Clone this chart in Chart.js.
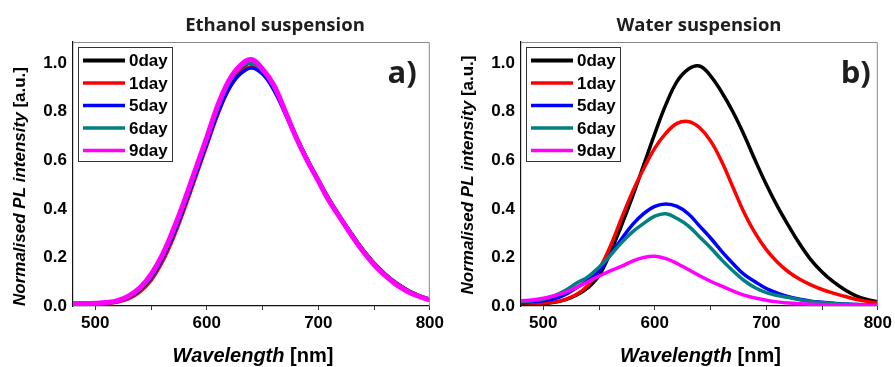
<!DOCTYPE html>
<html>
<head>
<meta charset="utf-8">
<script src="https://cdn.jsdelivr.net/npm/chart.js@4/dist/chart.umd.min.js"></script>
<style>
  html, body { margin: 0; padding: 0; background: #ffffff; }
  #wrap { position: relative; width: 895px; height: 367px; overflow: hidden; background: #fff; }
  canvas { position: absolute; top: 0; }
  #c1 { left: 0; }
  #c2 { left: 448px; }
</style>
</head>
<body>
<div id="wrap">
  <canvas id="c1" width="447" height="367"></canvas>
  <canvas id="c2" width="447" height="367"></canvas>
</div>
<script>
// ---------------- DATA ----------------
const wavelengths = [480, 490, 500, 510, 520, 530, 540, 550, 560, 570, 580, 590, 600, 610, 620, 630, 640,
                     650, 660, 670, 680, 690, 700, 710, 720, 730, 740, 750, 760, 770, 780, 790, 800];

const dayLabels = ['0day', '1day', '5day', '6day', '9day'];
const dayColors = ['#000000', '#ff0000', '#0000ff', '#008080', '#ff00ff'];

const xTickValues = [500, 550, 600, 650, 700, 750, 800];
const xTickLabels = ['500', '', '600', '', '700', '', '800'];
const yTickValues = [0.0, 0.2, 0.4, 0.6, 0.8, 1.0];
const yTickLabels = ['0.0', '0.2', '0.4', '0.6', '0.8', '1.0'];

// (a) Ethanol suspension
const ethanolDay0 = [0.005, 0.006, 0.008, 0.011, 0.018, 0.034, 0.063, 0.113, 0.190, 0.290, 0.410, 0.540, 0.670, 0.805, 0.910, 0.975, 1.000,
                     0.965, 0.900, 0.805, 0.700, 0.605, 0.520, 0.438, 0.365, 0.297, 0.232, 0.177, 0.132, 0.095, 0.066, 0.044, 0.028];
const ethanolDay1 = [0.006, 0.006, 0.007, 0.010, 0.016, 0.030, 0.058, 0.105, 0.180, 0.280, 0.400, 0.530, 0.660, 0.790, 0.895, 0.960, 0.985,
                     0.960, 0.895, 0.800, 0.697, 0.603, 0.518, 0.435, 0.363, 0.295, 0.230, 0.175, 0.130, 0.093, 0.064, 0.043, 0.027];
const ethanolDay5 = [0.007, 0.008, 0.009, 0.012, 0.019, 0.035, 0.065, 0.115, 0.193, 0.293, 0.412, 0.540, 0.668, 0.795, 0.895, 0.955, 0.980,
                     0.955, 0.890, 0.795, 0.692, 0.598, 0.513, 0.432, 0.360, 0.292, 0.228, 0.173, 0.128, 0.091, 0.063, 0.042, 0.026];
const ethanolDay6 = [0.007, 0.008, 0.009, 0.012, 0.020, 0.037, 0.068, 0.120, 0.200, 0.302, 0.422, 0.552, 0.682, 0.815, 0.920, 0.980, 1.000,
                     0.968, 0.902, 0.805, 0.700, 0.604, 0.518, 0.436, 0.364, 0.295, 0.230, 0.175, 0.130, 0.093, 0.064, 0.043, 0.027];
const ethanolDay9 = [0.010, 0.010, 0.011, 0.014, 0.022, 0.042, 0.075, 0.130, 0.210, 0.315, 0.435, 0.565, 0.695, 0.828, 0.930, 0.990, 1.015,
                     0.975, 0.910, 0.805, 0.695, 0.600, 0.515, 0.430, 0.360, 0.290, 0.225, 0.170, 0.125, 0.088, 0.060, 0.040, 0.025];

// (b) Water suspension
const waterDay0 = [0.012, 0.010, 0.010, 0.015, 0.026, 0.045, 0.075, 0.125, 0.220, 0.330, 0.450, 0.580, 0.710, 0.830, 0.925, 0.975, 0.988,
                   0.948, 0.880, 0.800, 0.705, 0.600, 0.500, 0.410, 0.330, 0.255, 0.190, 0.140, 0.100, 0.068, 0.043, 0.027, 0.017];
const waterDay1 = [0.015, 0.012, 0.012, 0.016, 0.027, 0.048, 0.085, 0.150, 0.245, 0.360, 0.470, 0.565, 0.650, 0.712, 0.752, 0.760, 0.735,
                   0.680, 0.595, 0.490, 0.385, 0.300, 0.232, 0.180, 0.140, 0.110, 0.087, 0.068, 0.053, 0.040, 0.028, 0.019, 0.012];
const waterDay5 = [0.015, 0.018, 0.022, 0.030, 0.048, 0.076, 0.105, 0.145, 0.210, 0.275, 0.335, 0.380, 0.410, 0.420, 0.410, 0.380, 0.330,
                   0.280, 0.225, 0.175, 0.130, 0.100, 0.072, 0.053, 0.038, 0.028, 0.020, 0.015, 0.011, 0.008, 0.006, 0.005, 0.004];
const waterDay6 = [0.018, 0.022, 0.028, 0.043, 0.065, 0.095, 0.120, 0.160, 0.208, 0.260, 0.305, 0.340, 0.370, 0.380, 0.360, 0.330, 0.285,
                   0.240, 0.190, 0.145, 0.105, 0.075, 0.055, 0.043, 0.035, 0.026, 0.019, 0.014, 0.010, 0.008, 0.006, 0.005, 0.004];
const waterDay9 = [0.022, 0.025, 0.032, 0.042, 0.056, 0.077, 0.100, 0.123, 0.145, 0.163, 0.185, 0.200, 0.205, 0.195, 0.175, 0.150, 0.125,
                   0.102, 0.082, 0.062, 0.045, 0.033, 0.024, 0.017, 0.012, 0.009, 0.007, 0.006, 0.005, 0.004, 0.004, 0.003, 0.003];

const ethanolSeries = [ethanolDay0, ethanolDay1, ethanolDay5, ethanolDay6, ethanolDay9];
const waterSeries = [waterDay0, waterDay1, waterDay5, waterDay6, waterDay9];

// ---------------- DRAWING ----------------
const TICK_FONT = { family: '"Liberation Sans", Arial, sans-serif', size: 17, weight: 'bold' };

const panelDecor = {
  id: 'panelDecor',
  afterDraw(chart, args, o) {
    const ctx = chart.ctx;
    const a = chart.chartArea;
    ctx.save();
    // top/right frame
    ctx.strokeStyle = '#8a8a8a';
    ctx.lineWidth = 1;
    ctx.beginPath();
    ctx.moveTo(a.left, a.top + 0.5);
    ctx.lineTo(a.right - 0.5, a.top + 0.5);
    ctx.lineTo(a.right - 0.5, a.bottom);
    ctx.stroke();

    // panel title
    ctx.fillStyle = '#1e1e1e';
    ctx.font = '700 18.5px "Open Sans", sans-serif';
    ctx.textAlign = 'center';
    ctx.textBaseline = 'alphabetic';
    ctx.fillText(o.title, o.titleX, 31);

    // panel letter
    ctx.font = '700 31px "Open Sans", sans-serif';
    ctx.textAlign = 'right';
    ctx.fillText(o.letter, a.right - o.letterInset, 83);

    // legend
    const lx = a.left + 5, ly = 47, lw = 94, lh = 114;
    ctx.fillStyle = '#fff';
    ctx.fillRect(lx, ly, lw, lh);
    ctx.strokeStyle = '#333';
    ctx.lineWidth = 1;
    ctx.strokeRect(lx + 0.5, ly + 0.5, lw, lh);
    ctx.font = 'bold 17px "Liberation Sans", Arial, sans-serif';
    ctx.textAlign = 'left';
    ctx.textBaseline = 'middle';
    chart.data.datasets.forEach((ds, i) => {
      const y = ly + 13.5 + i * 22.5;
      ctx.strokeStyle = ds.borderColor;
      ctx.lineWidth = i === 0 ? 4 : 3.5;
      ctx.beginPath();
      ctx.moveTo(lx + 5, y);
      ctx.lineTo(lx + 47, y);
      ctx.stroke();
      ctx.fillStyle = '#000';
      ctx.fillText(ds.label, lx + 51, y + 1);
    });

    // y axis title (mixed style)
    ctx.save();
    ctx.translate(o.yTitleX, o.yTitleY);
    ctx.rotate(-Math.PI / 2);
    ctx.fillStyle = '#000';
    ctx.textBaseline = 'middle';
    ctx.textAlign = 'left';
    const p1 = 'Normalised PL intensity ', p2 = '[a.u.]';
    const f1 = 'italic bold 17px "Liberation Sans", Arial, sans-serif';
    const f2 = 'bold 17px "Liberation Sans", Arial, sans-serif';
    ctx.font = f1; const w1 = ctx.measureText(p1).width;
    ctx.font = f2; const w2 = ctx.measureText(p2).width;
    let sx = -(w1 + w2) / 2;
    ctx.font = f1; ctx.fillText(p1, sx, 0);
    ctx.font = f2; ctx.fillText(p2, sx + w1, 0);
    ctx.restore();

    // x axis title
    const q1 = 'Wavelength ', q2 = '[nm]';
    const g1 = 'italic bold 20px "Liberation Sans", Arial, sans-serif';
    const g2 = 'bold 20px "Liberation Sans", Arial, sans-serif';
    ctx.fillStyle = '#000';
    ctx.textAlign = 'left';
    ctx.textBaseline = 'alphabetic';
    ctx.font = g1; const v1 = ctx.measureText(q1).width;
    ctx.font = g2; const v2 = ctx.measureText(q2).width;
    const cx = o.xTitleX - (v1 + v2) / 2;
    ctx.font = g1; ctx.fillText(q1, cx, 362);
    ctx.font = g2; ctx.fillText(q2, cx + v1, 362);

    ctx.restore();
  }
};

function makeChart(canvasId, series, widths, decor) {
  const datasets = series.map((vals, i) => ({
    label: dayLabels[i],
    data: wavelengths.map((w, k) => ({ x: w, y: vals[k] })),
    borderColor: dayColors[i],
    backgroundColor: dayColors[i],
    borderWidth: widths[i],
    pointRadius: 0,
    fill: false,
    tension: 0.4,
    order: series.length - 1 - i
  }));
  return new Chart(document.getElementById(canvasId), {
    type: 'line',
    data: { datasets },
    plugins: [panelDecor],
    options: {
      responsive: false,
      animation: false,
      devicePixelRatio: 1,
      layout: { padding: { left: 0, right: 16, top: 42, bottom: 0 } },
      plugins: {
        legend: { display: false },
        tooltip: { enabled: false },
        title: { display: false },
        panelDecor: decor
      },
      scales: {
        x: {
          type: 'linear',
          min: 480,
          max: 800,
          afterFit(scale) { scale.height = 61; },
          afterBuildTicks(scale) { scale.ticks = xTickValues.map(v => ({ value: v })); },
          ticks: {
            color: '#000',
            font: TICK_FONT,
            padding: 3,
            maxRotation: 0,
            autoSkip: false,
            callback: (v) => { const k = xTickValues.indexOf(v); return k >= 0 ? xTickLabels[k] : ''; }
          },
          grid: { display: true, drawOnChartArea: false, drawTicks: true, tickLength: 4, color: '#333', lineWidth: 1 },
          border: { display: true, color: '#111', width: 1.2 }
        },
        y: {
          type: 'linear',
          min: 0,
          max: 1.087,
          afterFit(scale) { scale.width = 73; },
          afterBuildTicks(scale) { scale.ticks = yTickValues.map(v => ({ value: v })); },
          ticks: {
            color: '#000',
            font: TICK_FONT,
            padding: 6,
            autoSkip: false,
            callback: (v) => { const k = yTickValues.findIndex(t => Math.abs(t - v) < 1e-9); return k >= 0 ? yTickLabels[k] : ''; }
          },
          grid: { display: true, drawOnChartArea: false, drawTicks: false },
          border: { display: true, color: '#111', width: 1.2 }
        }
      }
    }
  });
}

makeChart('c1', ethanolSeries, [3.5, 3.5, 3.5, 3.5, 5],
  { title: 'Ethanol suspension', titleX: 275, letter: 'a)', letterInset: 13, yTitleX: 20.5, yTitleY: 186.5, xTitleX: 253 });
makeChart('c2', waterSeries, [3.5, 3.5, 3.5, 3.5, 3.5],
  { title: 'Water suspension', titleX: 251, letter: 'b)', letterInset: 7, yTitleX: 20.7, yTitleY: 175, xTitleX: 252.5 });
</script>
</body>
</html>
